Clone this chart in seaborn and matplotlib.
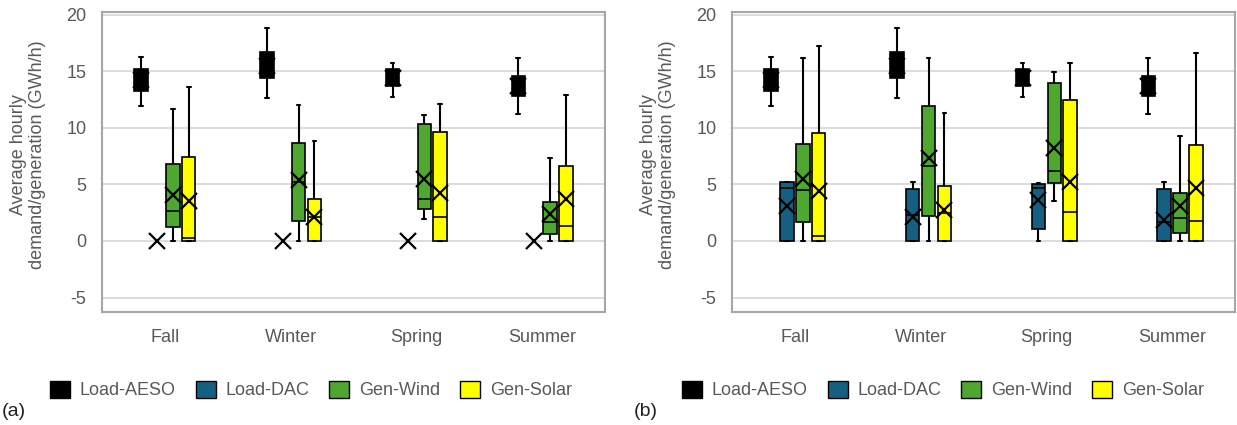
import numpy as np
import pandas as pd
import matplotlib
matplotlib.use("Agg")
import matplotlib.pyplot as plt
from matplotlib.patches import Patch
import seaborn as sns

seasons = ["Fall", "Winter", "Spring", "Summer"]
series = ["Load-AESO", "Load-DAC", "Gen-Wind", "Gen-Solar"]
colors = ["#000000", "#156082", "#4EA72E", "#FFFF00"]
yticks = [-5, 0, 5, 10, 15, 20]
ylabel = "Average hourly\ndemand/generation (GWh/h)"

# Load-AESO (same in both panels): min, q1, median, q3, max, mean per season
aeso_min = [11.9, 12.6, 12.7, 11.2]
aeso_q1 = [13.3, 14.4, 13.7, 12.8]
aeso_med = [14.2, 15.5, 14.4, 13.6]
aeso_q3 = [15.2, 16.7, 15.2, 14.6]
aeso_max = [16.3, 18.8, 15.7, 16.2]
aeso_mean = [14.2, 15.5, 14.4, 13.7]

# Panel (a)
a_dac_min = [0, 0, 0, 0]
a_dac_q1 = [0, 0, 0, 0]
a_dac_med = [0, 0, 0, 0]
a_dac_q3 = [0, 0, 0, 0]
a_dac_max = [0, 0, 0, 0]
a_dac_mean = [0, 0, 0, 0]

a_wind_min = [0, 0, 1.9, 0]
a_wind_q1 = [1.26, 1.77, 2.8, 0.6]
a_wind_med = [2.65, 5.2, 3.7, 1.7]
a_wind_q3 = [6.8, 8.7, 10.3, 3.4]
a_wind_max = [11.7, 12.0, 11.1, 7.3]
a_wind_mean = [4.1, 5.4, 5.5, 2.4]

a_solar_min = [0, 0, 0, 0]
a_solar_q1 = [0, 0, 0, 0]
a_solar_med = [0.24, 2.1, 2.15, 1.35]
a_solar_q3 = [7.4, 3.75, 9.6, 6.6]
a_solar_max = [13.6, 8.8, 12.1, 12.9]
a_solar_mean = [3.5, 2.15, 4.2, 3.7]

# Panel (b)
b_dac_min = [0, 0, 0, 0]
b_dac_q1 = [0, 0, 1.1, 0]
b_dac_med = [4.65, 2.3, 4.65, 1.7]
b_dac_q3 = [5.2, 4.6, 5.0, 4.6]
b_dac_max = [5.2, 5.2, 5.15, 5.2]
b_dac_mean = [3.1, 2.15, 3.6, 1.85]

b_wind_min = [0, 0, 3.5, 0]
b_wind_q1 = [1.7, 2.25, 5.15, 0.68]
b_wind_med = [4.5, 6.65, 6.2, 2.0]
b_wind_q3 = [8.6, 11.9, 14.0, 4.2]
b_wind_max = [16.2, 16.2, 14.9, 9.3]
b_wind_mean = [5.5, 7.3, 8.2, 3.1]

b_solar_min = [0, 0, 0, 0]
b_solar_q1 = [0, 0, 0, 0]
b_solar_med = [0.4, 2.5, 2.6, 1.8]
b_solar_q3 = [9.5, 4.9, 12.45, 8.5]
b_solar_max = [17.2, 11.35, 15.7, 16.65]
b_solar_mean = [4.45, 2.7, 5.2, 4.65]

panels = [
    ("(a)", {
        "Load-AESO": (aeso_min, aeso_q1, aeso_med, aeso_q3, aeso_max, aeso_mean),
        "Load-DAC": (a_dac_min, a_dac_q1, a_dac_med, a_dac_q3, a_dac_max, a_dac_mean),
        "Gen-Wind": (a_wind_min, a_wind_q1, a_wind_med, a_wind_q3, a_wind_max, a_wind_mean),
        "Gen-Solar": (a_solar_min, a_solar_q1, a_solar_med, a_solar_q3, a_solar_max, a_solar_mean),
    }),
    ("(b)", {
        "Load-AESO": (aeso_min, aeso_q1, aeso_med, aeso_q3, aeso_max, aeso_mean),
        "Load-DAC": (b_dac_min, b_dac_q1, b_dac_med, b_dac_q3, b_dac_max, b_dac_mean),
        "Gen-Wind": (b_wind_min, b_wind_q1, b_wind_med, b_wind_q3, b_wind_max, b_wind_mean),
        "Gen-Solar": (b_solar_min, b_solar_q1, b_solar_med, b_solar_q3, b_solar_max, b_solar_mean),
    }),
]

sns.set_theme(style="white")
plt.rcParams["font.family"] = ["Liberation Sans", "DejaVu Sans"]
plt.rcParams["axes.unicode_minus"] = False

TXT = "#595959"
FS = 13
W, H = 1237, 425
fig = plt.figure(figsize=(W / 100, H / 100), dpi=100)

ax_rects = [(102, 12, 605, 312), (732, 12, 1235, 312)]
legend_centers = [(311, 390), (943, 390)]
tag_pos = [(14, 411), (646, 411)]
ylab_x = [28, 658]

palette = dict(zip(series, colors))
box_width = 0.506
dodge_span = box_width - box_width / len(series)

for i, (tag, data) in enumerate(panels):
    x0, y0, x1, y1 = ax_rects[i]
    ax = fig.add_axes([x0 / W, 1 - y1 / H, (x1 - x0) / W, (y1 - y0) / H])

    box_rows, mean_rows = [], []
    for s in series:
        mn, q1, md, q3, mx, mean = data[s]
        for k, season in enumerate(seasons):
            mean_rows.append((season, s, mean[k]))
            if mx[k] - mn[k] > 0:
                for v in (mn[k], q1[k], md[k], q3[k], mx[k]):
                    box_rows.append((season, s, v))
    box_df = pd.DataFrame(box_rows, columns=["season", "series", "value"])
    mean_df = pd.DataFrame(mean_rows, columns=["season", "series", "value"])

    ax.set_axisbelow(True)
    ax.yaxis.grid(True, color="#d9d9d9", linewidth=1.3)
    ax.xaxis.grid(False)

    sns.boxplot(data=box_df, x="season", y="value", hue="series",
                order=seasons, hue_order=series, palette=palette,
                width=box_width, gap=0.15, whis=(0, 100), showfliers=False,
                saturation=1, linecolor="black", linewidth=1.2, legend=False,
                medianprops={"color": "black", "linewidth": 1.2},
                whiskerprops={"linewidth": 1.5},
                capprops={"linewidth": 1.5},
                capwidths=0.03,
                ax=ax)
    sns.pointplot(data=mean_df, x="season", y="value", hue="series",
                  order=seasons, hue_order=series,
                  palette={s: "black" for s in series},
                  dodge=dodge_span, markers="x", linestyles="none",
                  errorbar=None, legend=False, ax=ax,
                  markersize=11, markeredgewidth=1.6, zorder=5)

    ax.set_ylim(-6.28, 20.24)
    ax.set_xlim(-0.5, 3.5)
    ax.set_yticks(yticks)
    ax.set_yticklabels([str(t) for t in yticks])
    ax.set_xlabel("")
    ax.set_ylabel("")
    ax.tick_params(axis="y", length=0, pad=11.3, labelsize=FS, labelcolor=TXT)
    ax.tick_params(axis="x", length=0, pad=12, labelsize=FS, labelcolor=TXT)
    for sp in ax.spines.values():
        sp.set_visible(True)
        sp.set_color("#a6a6a6")
        sp.set_linewidth(1.5)

    fig.text(ylab_x[i] / W, 1 - 155 / H, ylabel, rotation=90, ha="center",
             va="center", fontsize=FS, color=TXT, linespacing=1.1)

    handles = [Patch(facecolor=c, edgecolor="black", linewidth=1.0) for c in colors]
    fig.legend(handles, series, loc="center",
               bbox_to_anchor=(legend_centers[i][0] / W, 1 - legend_centers[i][1] / H),
               ncol=4, frameon=False, fontsize=FS, handlelength=1.1,
               handleheight=1.1, handletextpad=0.55, columnspacing=1.1,
               labelcolor=TXT)
    fig.text(tag_pos[i][0] / W, 1 - tag_pos[i][1] / H, tag, ha="center",
             va="center", fontsize=14, color="#222222")

fig.savefig("out.png", dpi=100)
